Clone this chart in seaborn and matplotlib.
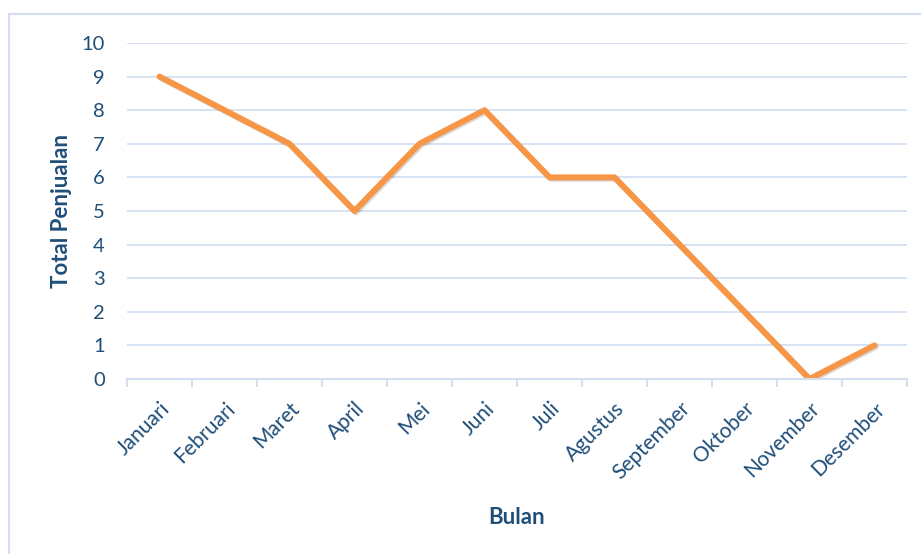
import seaborn as sns
import matplotlib.pyplot as plt
import matplotlib.patheffects as pe
from matplotlib.patches import Rectangle
import pandas as pd

bulan = ["Januari", "Februari", "Maret", "April", "Mei", "Juni", "Juli",
         "Agustus", "September", "Oktober", "November", "Desember"]
total = [9, 8, 7, 5, 7, 8, 6, 6, 4, 2, 0, 1]

df = pd.DataFrame({"Bulan": bulan, "Total Penjualan": total})

sns.set_theme(style="white")
plt.rcParams["font.family"] = ["Lato", "DejaVu Sans"]

text_color = "#1F4E79"
grid_color = "#D3DFF1"

fig = plt.figure(figsize=(9.21, 5.54), dpi=100)
ax = fig.add_axes([0.1379, 0.3159, 0.9848 - 0.1379, 0.9224 - 0.3159])

# chart border
fig.patches.append(Rectangle((9 / 921, -0.1), 1.1, 0.1 + (554 - 14) / 554,
                             transform=fig.transFigure, fill=False,
                             edgecolor=grid_color, linewidth=1.5))

x = list(range(len(bulan)))
sns.lineplot(x=x, y=df["Total Penjualan"], ax=ax, color="#F79646", linewidth=4.3,
             solid_capstyle="round", solid_joinstyle="round",
             path_effects=[pe.SimpleLineShadow(offset=(1, -1), alpha=0.15, shadow_color="black"),
                           pe.Normal()])

ax.set_xlim(-0.5, len(bulan) - 0.5)
ax.set_ylim(0, 10)
ax.set_yticks(range(0, 11))
ax.set_xticks(x)
ax.set_xticklabels(bulan, rotation=45, ha="right", rotation_mode="anchor")
ax.yaxis.grid(True, color=grid_color, linewidth=1.3)
ax.set_axisbelow(True)

for s in ["top", "right", "left"]:
    ax.spines[s].set_visible(False)
ax.spines["bottom"].set_color(grid_color)
ax.spines["bottom"].set_linewidth(1.5)

# tick marks between categories
ax.set_xticks([i - 0.5 for i in range(len(bulan) + 1)], minor=True)
ax.tick_params(axis="x", which="minor", bottom=True, length=6, width=1.5, color=grid_color)
ax.tick_params(axis="x", which="major", bottom=False, labelsize=15, labelcolor=text_color, pad=8)
ax.tick_params(axis="y", left=False, length=0, labelsize=14.5, labelcolor=text_color, pad=16)

ax.set_xlabel("Bulan", fontsize=16, fontweight="bold", color=text_color, labelpad=17)
ax.set_ylabel("Total Penjualan", fontsize=16, fontweight="bold", color=text_color, labelpad=7)

fig.savefig("out.png", dpi=100, facecolor="white")
